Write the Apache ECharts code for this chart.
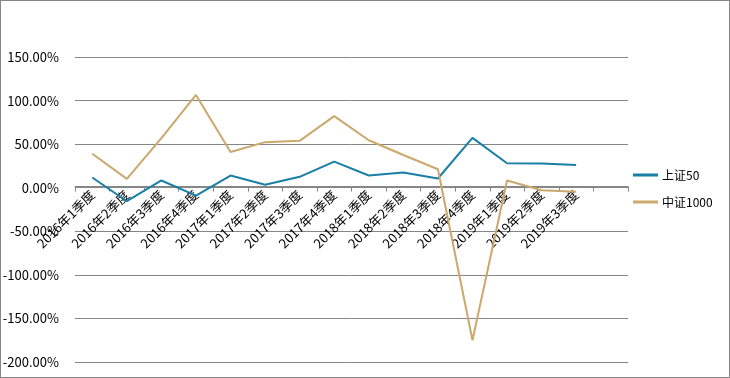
<!DOCTYPE html>
<html>
<head>
<meta charset="utf-8">
<script src="https://cdn.jsdelivr.net/npm/echarts@6/dist/echarts.min.js"></script>
<style>
  html, body { margin: 0; padding: 0; background: #fff; }
  #main { width: 730px; height: 378px; box-sizing: border-box; border: 1px solid #868686; }
</style>
</head>
<body>
<div id="main"></div>
<script>
// 季度（最后一格在原图中是空的）
var categories = ['2016年1季度', '2016年2季度', '2016年3季度', '2016年4季度',
    '2017年1季度', '2017年2季度', '2017年3季度', '2017年4季度',
    '2018年1季度', '2018年2季度', '2018年3季度', '2018年4季度',
    '2019年1季度', '2019年2季度', '2019年3季度', ''];
var sz50 = [11.7, -15.5, 8.3, -9.1, 14.0, 3.4, 12.5, 30.0, 14.0, 17.4, 10.6, 57.2, 28.0, 27.7, 26.1];
var zz1000 = [39.0, 10.2, 57.0, 106.5, 40.9, 52.3, 53.8, 82.2, 54.5, 37.5, 21.2, -175.0, 8.3, -3.0, -4.5];
var yTicks = [-200, -150, -100, -50, 0, 50, 100, 150];

var myChart = echarts.init(document.getElementById('main'));
var font = '"Noto Sans CJK SC", "DejaVu Sans", sans-serif';
var gridTop = 56, gridBottom = 15;
var yMin = yTicks[0], yMax = yTicks[yTicks.length - 1];
// x 轴放在 0 线上（onZero 在这里不带标签一起移动，所以用 offset）
var plotH = 378 - gridTop - gridBottom;
var zeroOffset = -(0 - yMin) / (yMax - yMin) * plotH;

var option = {
    animation: false,
    textStyle: { fontFamily: font },
    grid: { left: 74, right: 101, top: gridTop, bottom: gridBottom, containLabel: false, outerBoundsMode: 'none' },
    legend: {
        orient: 'vertical',
        left: 632,
        top: 167,
        padding: 0,
        icon: 'rect',
        itemWidth: 25,
        itemHeight: 3,
        itemGap: 13,
        textStyle: { fontSize: 12, lineHeight: 14, color: '#000', fontFamily: font, padding: [0, 0, 0, -1] },
        data: ['上证50', '中证1000']
    },
    xAxis: {
        type: 'category',
        boundaryGap: true,
        data: categories,
        offset: zeroOffset,
        axisLine: { onZero: false, lineStyle: { color: '#868686', width: 1 } },
        axisTick: { show: true, interval: 0, length: 5, lineStyle: { color: '#868686' } },
        axisLabel: { interval: 0, rotate: 45, margin: 6, fontSize: 13, color: '#000', fontFamily: font, hideOverlap: false },
        splitLine: { show: false }
    },
    yAxis: {
        type: 'value',
        min: yMin,
        max: yMax,
        interval: 50,
        axisLine: { show: false },
        axisTick: { show: false },
        axisLabel: {
            margin: 16, fontSize: 13, color: '#000', fontFamily: font,
            formatter: function (v) { return v.toFixed(2) + '%'; }
        },
        splitLine: { show: true, lineStyle: { color: '#868686', width: 1 } }
    },
    series: [{
        name: '上证50',
        type: 'line',
        symbol: 'none',
        showSymbol: false,
        lineStyle: { color: '#1a7fa6', width: 2 },
        itemStyle: { color: '#1a7fa6' },
        data: sz50
    }, {
        name: '中证1000',
        type: 'line',
        symbol: 'none',
        showSymbol: false,
        lineStyle: { color: '#cba86c', width: 2 },
        itemStyle: { color: '#cba86c' },
        data: zz1000
    }]
};
myChart.setOption(option);
</script>
</body>
</html>
